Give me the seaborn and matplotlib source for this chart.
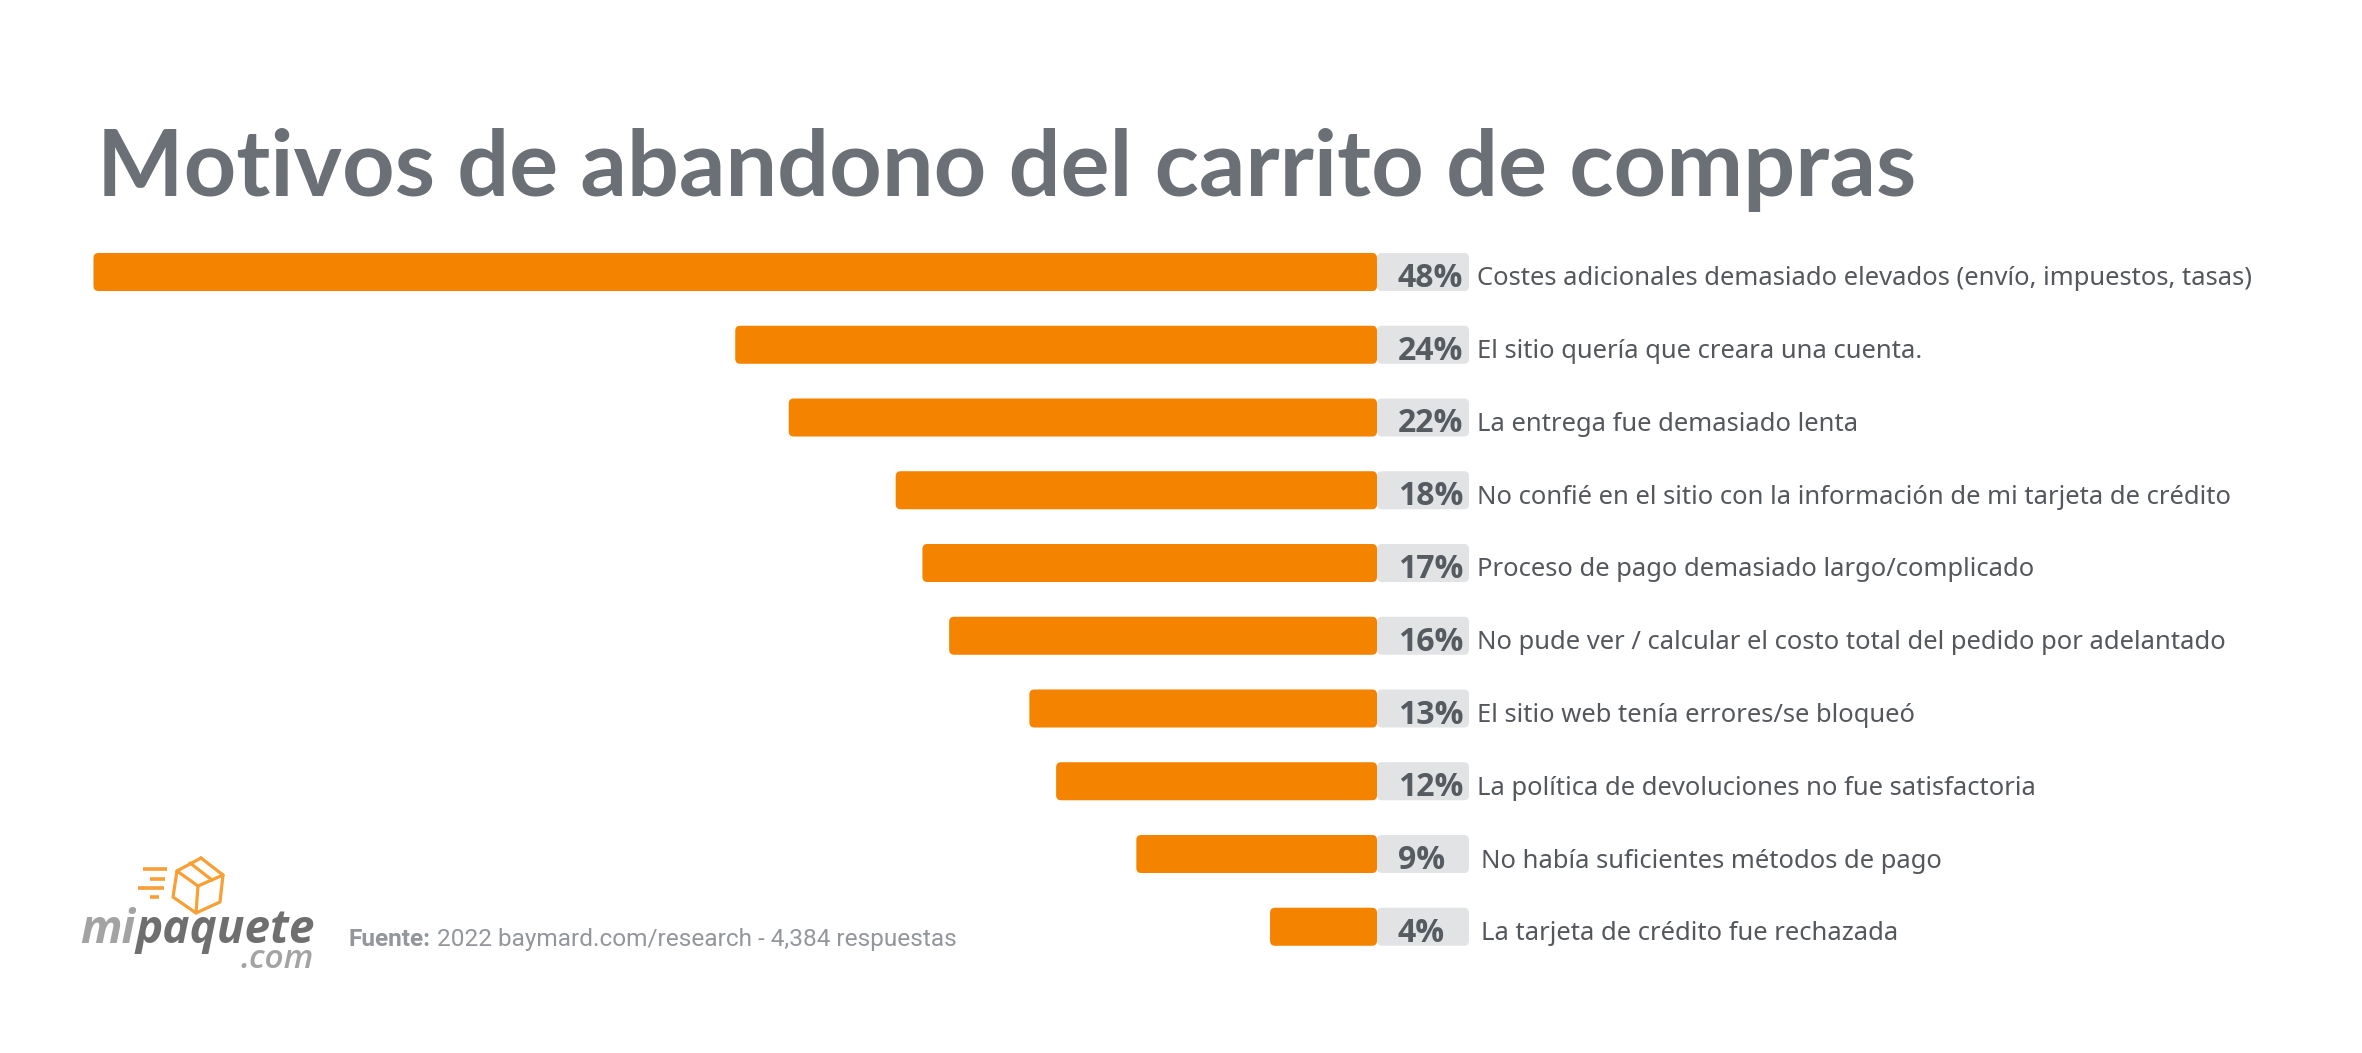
import pandas as pd
import seaborn as sns
import matplotlib.pyplot as plt
from matplotlib.patches import FancyBboxPatch
from matplotlib.lines import Line2D

# Data
reasons = [
    "Costes adicionales demasiado elevados (envío, impuestos, tasas)",
    "El sitio quería que creara una cuenta.",
    "La entrega fue demasiado lenta",
    "No confié en el sitio con la información de mi tarjeta de crédito",
    "Proceso de pago demasiado largo/complicado",
    "No pude ver / calcular el costo total del pedido por adelantado",
    "El sitio web tenía errores/se bloqueó",
    "La política de devoluciones no fue satisfactoria",
    "No había suficientes métodos de pago",
    "La tarjeta de crédito fue rechazada",
]
percent = [48, 24, 22, 18, 17, 16, 13, 12, 9, 4]

ORANGE = "#F48400"
TRACK = "#E1E3E5"
TITLE_GREY = "#6A7076"
TEXT_GREY = "#54585D"
PCT_GREY = "#555B61"
SOURCE_GREY = "#93979B"
LOGO_ORANGE = "#F6A035"
W, H = 2362, 1053
PX_PER_PCT = 26.74
ROW_PX = 72.75
ZERO_X = 1377
FIRST_Y = 272
TRACK_PX = 92

sns.set_theme(style="white")
plt.rcParams["font.family"] = ["Open Sans", "DejaVu Sans"]

df = pd.DataFrame({"reason": reasons, "percent": percent})
df["track"] = -TRACK_PX / PX_PER_PCT

fig = plt.figure(figsize=(W / 100, H / 100), dpi=100, facecolor="white")
ax = fig.add_axes([0, 0, 1, 1])

# grey strip behind the numbers and the orange bars, both from the same zero
sns.barplot(data=df, y="reason", x="track", color=TRACK, width=0.523, saturation=1, orient="h", ax=ax)
sns.barplot(data=df, y="reason", x="percent", color=ORANGE, width=0.523, saturation=1, orient="h", ax=ax)

ax.set_xlim(ZERO_X / PX_PER_PCT, -(W - ZERO_X) / PX_PER_PCT)
ax.set_ylim((H - FIRST_Y) / ROW_PX, -FIRST_Y / ROW_PX)
ax.axis("off")

# swap the square bars for rounded ones
for bar in list(ax.patches):
    x, y, w, h = bar.get_x(), bar.get_y(), bar.get_width(), bar.get_height()
    rounded = FancyBboxPatch(
        (min(x, x + w), y), abs(w), h,
        boxstyle=f"round,pad=0,rounding_size={5 / PX_PER_PCT}",
        mutation_aspect=PX_PER_PCT / ROW_PX,
        facecolor=bar.get_facecolor(), edgecolor="none",
        zorder=3 if w > 0 else 2,
    )
    bar.remove()
    ax.add_patch(rounded)

for i, (reason, value) in enumerate(zip(reasons, percent)):
    two_digits = value >= 10
    ax.annotate(f"{value}%", (0, i), xytext=(21 * 0.72, -6.5 * 0.72),
                textcoords="offset points", ha="left", va="center",
                fontsize=23, fontweight="bold", color=PCT_GREY, family="Open Sans")
    ax.annotate(reason, (0, i), xytext=((100 if two_digits else 104) * 0.72, -7 * 0.72),
                textcoords="offset points", ha="left", va="center",
                fontsize=18.45, color=TEXT_GREY, family="Noto Sans")

# overlay in pixel coordinates for title, source and logo
over = fig.add_axes([0, 0, 1, 1], facecolor="none")
over.set_xlim(0, W)
over.set_ylim(H, 0)
over.axis("off")

over.text(97, 196, "Motivos de abandono del carrito de compras", fontsize=66,
          fontweight="bold", color=TITLE_GREY, family="Lato", ha="left", va="baseline")

src = over.text(349, 946, "Fuente:", fontsize=17.6, fontweight="bold", color=SOURCE_GREY,
                family="Roboto", ha="left", va="baseline")
over.annotate(" 2022 baymard.com/research - 4,384 respuestas", xy=(1, 0), xycoords=src,
              fontsize=17.6, color=SOURCE_GREY, family="Roboto", ha="left", va="bottom")

# logo
box_lines = [
    [(201, 858), (223, 875), (220, 902), (196, 913), (173, 897), (177, 871), (201, 858)],
    [(177, 871), (198, 886), (223, 875)],
    [(198, 886), (196, 913)],
    [(190, 863), (212, 880)],
]
for pts in box_lines:
    xs, ys = zip(*pts)
    over.add_line(Line2D(xs, ys, color=LOGO_ORANGE, lw=2.3, solid_joinstyle="round"))
for x0, x1, y0 in [(143, 167, 869), (150, 165, 879), (138, 164, 888), (150, 159, 897)]:
    over.add_line(Line2D([x0, x1], [y0, y0], color=LOGO_ORANGE, lw=2.6, solid_capstyle="butt"))

mi = over.text(80, 943, "mi", fontsize=33, fontstyle="italic", fontweight="bold",
               color="#A3A3A3", family="Open Sans", ha="left", va="baseline")
over.annotate("paquete", xy=(1, 0), xycoords=mi, fontsize=33, fontstyle="italic", fontweight="bold",
              color="#6F6F6F", family="Open Sans", ha="left", va="bottom")
over.text(314, 968, ".com", fontsize=24, fontstyle="italic", fontweight="semibold",
          color="#A3A3A3", family="Open Sans", ha="right", va="baseline")

fig.savefig("out.png", dpi=100, facecolor="white")
plt.close(fig)
